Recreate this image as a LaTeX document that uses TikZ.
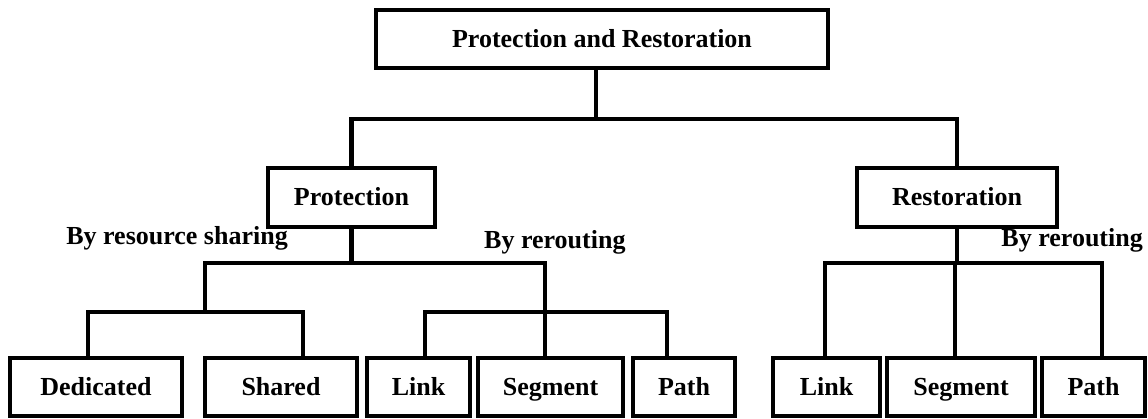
\documentclass[tikz,border=0pt]{standalone}
\usepackage{fontspec}
\setmainfont{Liberation Serif}
\begin{document}
\begin{tikzpicture}[x=1pt,y=-1pt,
  every node/.style={font=\fontsize{26}{30}\selectfont\bfseries},
  box/.style={draw,line width=4.5pt,inner sep=0pt,minimum height=58pt,
    text height=18pt,text depth=1pt},
  link/.style={line width=4.5pt,line cap=rect},
  lbl/.style={inner sep=0pt}]
\useasboundingbox (0,0) rectangle (1148,419);
\fill[white] (0,0) rectangle (1148,419);

% root and first level
\node[box,minimum width=452pt] (top) at (602,39) {Protection and Restoration};
\node[box,minimum width=167pt,minimum height=59pt] (prot) at (351.5,197.5) {Protection};
\node[box,minimum width=200pt,minimum height=59pt] (rest) at (957,197.5) {Restoration};

% leaves
\node[box,minimum width=172pt] (ded)  at (96,387)    {Dedicated};
\node[box,minimum width=152pt] (shr)  at (281,387)   {Shared};
\node[box,minimum width=103pt] (lnkA) at (418.5,387) {Link};
\node[box,minimum width=145pt] (segA) at (550.5,387) {Segment};
\node[box,minimum width=102pt] (pthA) at (684,387)   {Path};
\node[box,minimum width=107pt] (lnkB) at (826.5,387) {Link};
\node[box,minimum width=148pt] (segB) at (961,387)   {Segment};
\node[box,minimum width=103pt] (pthB) at (1093.5,387){Path};

% branch labels
\node[lbl,anchor=east] (lshare) at (288,238) {By resource sharing};
\node[lbl,anchor=west] (lrerA)  at (484,242) {By rerouting};
\node[lbl,anchor=east] (lrerB)  at (1143,240) {By rerouting};

% junction points
\coordinate (j0) at (596,119);
\coordinate (j1) at (351.5,263);
\coordinate (bL) at (205,263);
\coordinate (bR) at (545,263);
\coordinate (d1) at (88,312);
\coordinate (d2) at (303,312);
\coordinate (r1) at (425,312);
\coordinate (r3) at (667,312);
\coordinate (q0) at (957,263);
\coordinate (q1) at (825,263);
\coordinate (q2) at (955,263);
\coordinate (q3) at (1102,263);

% root to first level
\draw[link] (j0 |- top.south) -- (j0);
\draw[link] (prot.north) |- (j0) -| (rest.north);

% protection subtree
\draw[link] (prot.south) -- (j1);
\draw[link] (bL) -- (bR);
\draw[link] (bL) -- (bL |- d1);
\draw[link] (d1 |- ded.north) |- (d2) -- (d2 |- shr.north);
\draw[link] (bR) -- (bR |- segA.north);
\draw[link] (r1 |- lnkA.north) |- (r3) -- (r3 |- pthA.north);

% restoration subtree
\draw[link] (rest.south) -- (q0);
\draw[link] (q1 |- lnkB.north) |- (q3) -- (q3 |- pthB.north);
\draw[link] (q2) -- (q2 |- segB.north);
\end{tikzpicture}
\end{document}
